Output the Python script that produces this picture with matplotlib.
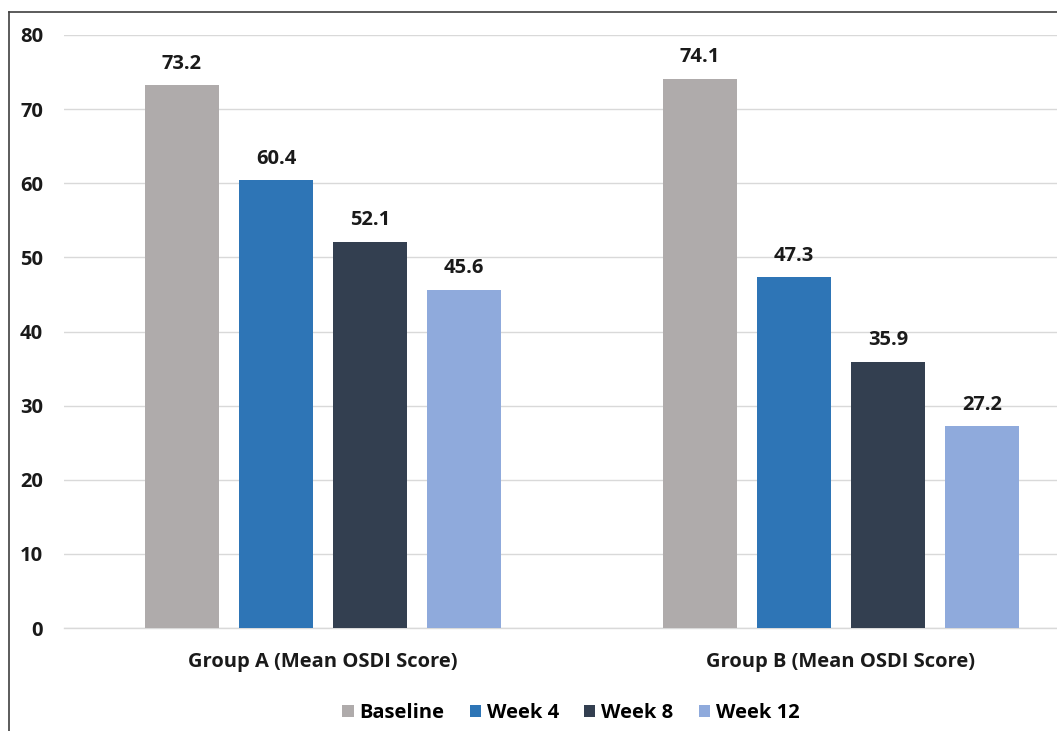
import matplotlib
matplotlib.use("Agg")
import matplotlib.pyplot as plt
from matplotlib.lines import Line2D
import numpy as np

categories = ["Group A (Mean OSDI Score)", "Group B (Mean OSDI Score)"]
series_names = ["Baseline", "Week 4", "Week 8", "Week 12"]
baseline = [73.2, 74.1]
week4 = [60.4, 47.3]
week8 = [52.1, 35.9]
week12 = [45.6, 27.2]
series_values = [baseline, week4, week8, week12]
colors = ["#AFABAB", "#2E75B6", "#333F50", "#8FAADC"]
yticks = [0, 10, 20, 30, 40, 50, 60, 70, 80]

FS = 14.5
plt.rcParams['font.family'] = ['Open Sans', 'DejaVu Sans']
plt.rcParams['font.weight'] = 'bold'

W, H = 1057, 731
fig = plt.figure(figsize=(W / 100, H / 100), dpi=100)
ax_left = 64 / W
ax_width = (1100 - 64) / W
ax_bottom = 1 - 628 / H
ax_height = (628 - 35) / H
ax = fig.add_axes([ax_left, ax_bottom, ax_width, ax_height])

x = np.arange(len(categories))
bw = 74 / 518
step = 94 / 518
offsets = (np.arange(len(series_names)) - 1.5) * step
for i, (name, vals, c) in enumerate(zip(series_names, series_values, colors)):
    bars = ax.bar(x + offsets[i], vals, width=bw, color=c, label=name, zorder=3)
    for b, v in zip(bars, vals):
        ax.annotate(f"{v:.1f}", (b.get_x() + b.get_width() / 2, v),
                    xytext=(0, 12), textcoords="offset points",
                    ha="center", va="baseline", fontsize=FS, fontweight="bold",
                    color="#1a1a1a")

ax.set_xlim(-0.5, 1.5)
ax.set_ylim(0, 80)
ax.set_yticks(yticks)
ax.set_xticks(x)
ax.set_xticklabels(categories)
ax.grid(axis="y", color="#D9D9D9", linewidth=1, zorder=0)
for s in ["left", "right", "top"]:
    ax.spines[s].set_visible(False)
ax.spines["bottom"].set_color("#D9D9D9")
ax.spines["bottom"].set_linewidth(1)
ax.tick_params(axis="y", length=0, pad=15, labelsize=FS, labelcolor="#1a1a1a")
ax.tick_params(axis="x", length=0, pad=17, labelsize=FS, labelcolor="#1a1a1a")
for lab in ax.get_xticklabels() + ax.get_yticklabels():
    lab.set_fontweight("bold")

handles, labels = ax.get_legend_handles_labels()
fig.legend(handles, labels, loc="center", bbox_to_anchor=(571 / W, 1 - 713 / H),
           ncol=4, frameon=False, handlelength=0.55, handleheight=0.55,
           columnspacing=1.25, handletextpad=0.3,
           prop={"weight": "bold", "size": FS})

fig.add_artist(Line2D([9 / W, 1], [1 - 12 / H, 1 - 12 / H], color="#404040", linewidth=1.2,
                      transform=fig.transFigure))
fig.add_artist(Line2D([9 / W, 9 / W], [0, 1 - 12 / H], color="#404040", linewidth=1.2,
                      transform=fig.transFigure))

fig.savefig("out.png", dpi=100)
